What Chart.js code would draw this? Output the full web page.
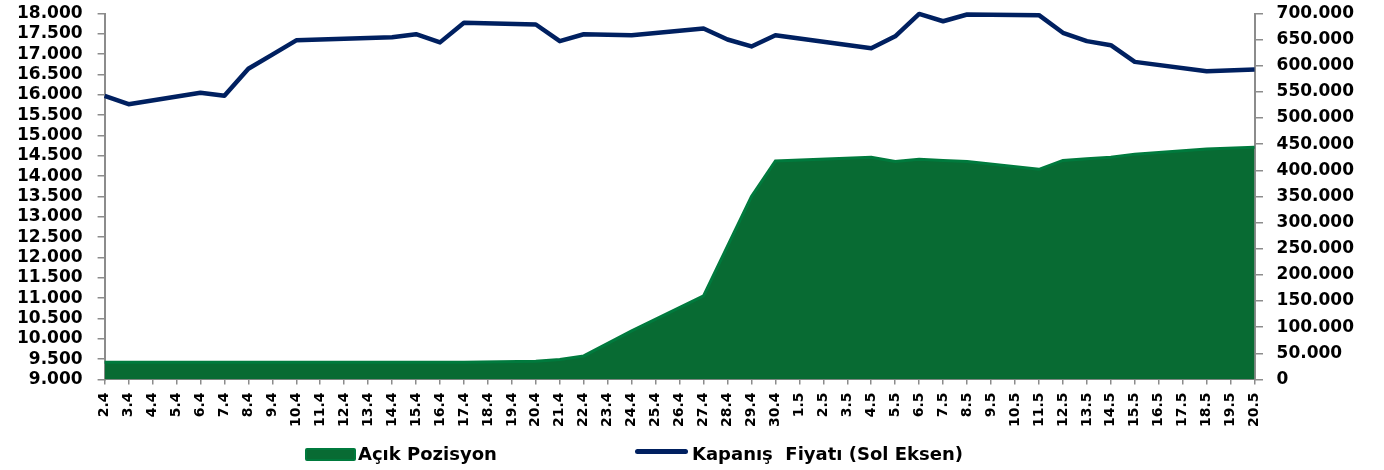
<!DOCTYPE html>
<html>
<head>
<meta charset="utf-8">
<script src="https://cdn.jsdelivr.net/npm/chart.js@4/dist/chart.umd.min.js"></script>
<style>
  html, body { margin: 0; padding: 0; background: #fff; }
  #wrap { position: relative; width: 1384px; height: 470px; }
  #chart { position: absolute; left: 0; top: 0; }
  .leg { position: absolute; font: bold 18px "DejaVu Sans", sans-serif; color: #000; white-space: pre; line-height: 20px; }
  .swatch { position: absolute; }
</style>
</head>
<body>
<div id="wrap">
  <canvas id="chart" width="1384" height="470"></canvas>
  <div class="swatch" style="left:305px;top:448px;width:47px;height:9px;background:#086b33;border:2px solid #007a3d;border-radius:2px;"></div>
  <div class="leg" id="leg-area" style="left:358px;top:444px;"></div>
  <div class="swatch" style="left:635px;top:449px;width:53px;height:5px;background:#002060;border-radius:3px;"></div>
  <div class="leg" id="leg-line" style="left:692px;top:444px;"></div>
</div>
<script>
// day labels (2 April - 20 May)
const dates = [
  '2.4', '3.4', '4.4', '5.4', '6.4', '7.4', '8.4', '9.4', '10.4', '11.4',
  '12.4', '13.4', '14.4', '15.4', '16.4', '17.4', '18.4', '19.4', '20.4', '21.4',
  '22.4', '23.4', '24.4', '25.4', '26.4', '27.4', '28.4', '29.4', '30.4', '1.5',
  '2.5', '3.5', '4.5', '5.5', '6.5', '7.5', '8.5', '9.5', '10.5', '11.5',
  '12.5', '13.5', '14.5', '15.5', '16.5', '17.5', '18.5', '19.5', '20.5'
];

// closing price, left axis (null = no trading that day)
const closePrice = [
  15975, 15770, null, null, 16050, 15975, 16640, 16990, 17340, null,
  null, 17400, 17415, 17490, 17290, 17770, null, null, 17730, 17320,
  17490, null, 17465, null, null, 17630, 17360, 17190, 17465, null,
  null, null, 17145, 17440, 17990, 17810, 17975, null, null, 17960,
  17525, 17320, 17220, 16810, null, null, 16580, null, 16620
];

// open position, right axis
const openPos = [
  33000, 33000, null, null, 33000, 33000, 33000, 33000, 33000, null,
  null, 33000, 33000, 33000, 33000, 33000, null, null, 35000, 38000,
  45000, null, 93000, null, null, 160000, 255000, 350000, 418000, null,
  null, null, 425000, 417000, 421000, 419000, 417000, null, null, 402000,
  419000, 422000, 425000, 431000, null, null, 441000, null, 444000
];

const legendNames = ['Açık Pozisyon', 'Kapanış  Fiyatı (Sol Eksen)'];
const leftTicks = { min: 9000, max: 18000, step: 500 };
const rightTicks = { min: 0, max: 700000, step: 50000 };

document.getElementById('leg-area').textContent = legendNames[0];
document.getElementById('leg-line').textContent = legendNames[1];

const fmt = (v) => Number(v).toLocaleString('tr-TR');
const axisGray = '#8c8c8c';
const tickFont = { family: 'DejaVu Sans', weight: 'bold', size: 17, lineHeight: 1 };

// long tick slot but only the 7px next to the axis is drawn
const yGrid = (dash) => ({
  drawOnChartArea: false, tickLength: 17, tickBorderDash: dash,
  color: axisGray, lineWidth: 1.5
});

new Chart(document.getElementById('chart'), {
  type: 'line',
  data: {
    labels: dates,
    datasets: [
      {
        label: legendNames[1],
        data: closePrice,
        yAxisID: 'y',
        borderColor: '#002060',
        borderWidth: 4.5,
        borderJoinStyle: 'round',
        pointRadius: 0,
        tension: 0,
        spanGaps: true,
        fill: false,
        clip: false
      },
      {
        label: legendNames[0],
        data: openPos,
        yAxisID: 'y1',
        borderColor: '#007a3d',
        backgroundColor: '#086b33',
        borderWidth: 3,
        pointRadius: 0,
        tension: 0,
        spanGaps: true,
        fill: 'origin'
      }
    ]
  },
  options: {
    responsive: false,
    animation: false,
    layout: { padding: { left: 12, right: 25, top: 2, bottom: 35 } },
    plugins: { legend: { display: false }, tooltip: { enabled: false } },
    scales: {
      x: {
        offset: false,
        grid: { display: true, drawOnChartArea: false, tickLength: 5, color: axisGray, lineWidth: 1.5 },
        border: { display: true, color: axisGray, width: 2 },
        ticks: {
          autoSkip: false, maxRotation: 90, minRotation: 90, padding: 8, color: '#000',
          font: { family: 'DejaVu Sans', weight: 'bold', size: 14 }
        }
      },
      y: {
        position: 'left',
        min: leftTicks.min, max: leftTicks.max,
        grid: yGrid([0, 10, 7, 60]),
        border: { display: true, color: axisGray, width: 2 },
        ticks: { stepSize: leftTicks.step, autoSkip: false, padding: 5, color: '#000', font: tickFont, callback: fmt }
      },
      y1: {
        position: 'right',
        min: rightTicks.min, max: rightTicks.max,
        grid: yGrid([7, 60]),
        border: { display: true, color: axisGray, width: 2 },
        ticks: { stepSize: rightTicks.step, autoSkip: false, padding: 5, color: '#000', font: tickFont, callback: fmt }
      }
    }
  }
});
</script>
</body>
</html>
